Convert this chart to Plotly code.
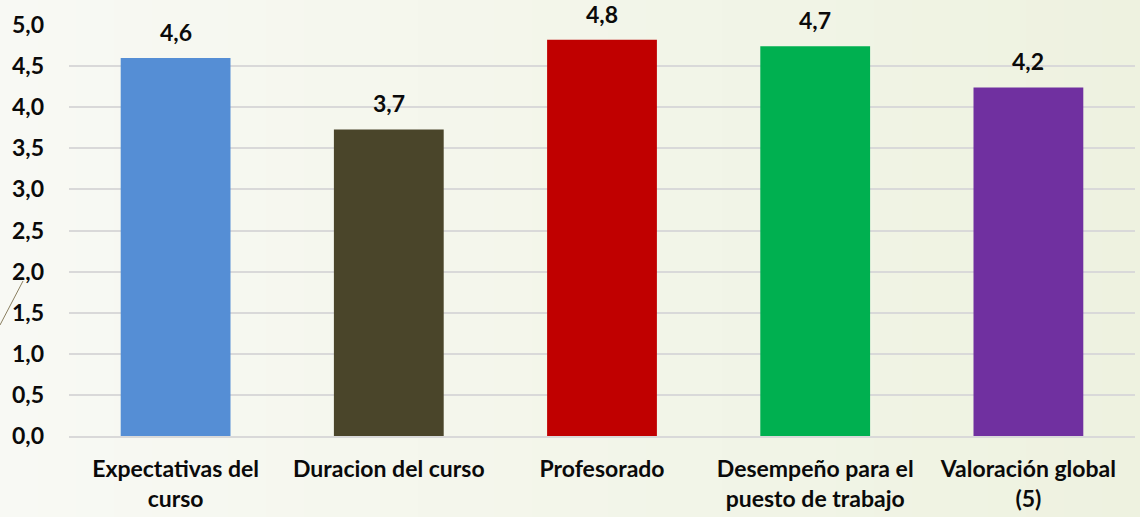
import plotly.graph_objects as go

categories = ["Expectativas del<br>curso", "Duracion del curso", "Profesorado",
              "Desempeño para el<br>puesto de trabajo", "Valoración global<br>(5)"]
values = [4.6, 3.73, 4.82, 4.74, 4.24]
labels = ["4,6", "3,7", "4,8", "4,7", "4,2"]
colors = ["#558ed5", "#4a452a", "#c00000", "#00b050", "#7030a0"]
y_ticks = [0, 0.5, 1, 1.5, 2, 2.5, 3, 3.5, 4, 4.5, 5]

FONT = "Lato"
SIZE = 23
TXT = "#0a0a0a"

W, H = 1140, 517
ML, MR, MT, MB = 69, 5, 25, 81
PW, PH = W - ML - MR, H - MT - MB

fig = go.Figure(go.Bar(
    x=categories, y=values, marker=dict(color=colors, line=dict(width=0)),
    hoverinfo="skip",
))

for c, v, t in zip(categories, values, labels):
    fig.add_annotation(x=c, y=v, text=t, showarrow=False, yanchor="bottom",
                       yshift=10, font=dict(family=FONT, size=SIZE, color=TXT, weight="bold"))

# subtle horizontal background gradient (style only)
shapes = []
n = 30
c0, c1 = (248, 249, 244), (238, 242, 224)
x_left, x_right = -ML / PW, 1 + MR / PW
for i in range(n):
    f = i / (n - 1)
    col = tuple(round(a + (b - a) * f) for a, b in zip(c0, c1))
    shapes.append(dict(type="rect", xref="paper", yref="paper", layer="below",
                       x0=x_left + (x_right - x_left) * i / n,
                       x1=x_left + (x_right - x_left) * (i + 1) / n + 0.001,
                       y0=-MB / PH, y1=1 + MT / PH,
                       fillcolor="rgb(%d,%d,%d)" % col, line=dict(width=0)))
shapes.append(dict(type="line", xref="paper", yref="paper",
                   x0=-69 / PW, y0=(436 - 325) / PH, x1=-46 / PW, y1=(436 - 281) / PH,
                   line=dict(color="#8a7f60", width=1)))

fig.update_layout(
    width=W, height=H,
    margin=dict(l=ML, r=MR, t=MT, b=MB),
    paper_bgcolor="#f4f6ec",
    plot_bgcolor="#bfbfbf",
    bargap=0.485,
    separators=",.",
    showlegend=False,
    font=dict(family=FONT, size=SIZE, color=TXT, weight="bold"),
    shapes=shapes,
)
fig.update_xaxes(
    tickfont=dict(family=FONT, size=SIZE, color=TXT, weight="bold"),
    showline=True, linecolor="#d9d9d9", linewidth=2, ticks="",
    ticklabelstandoff=11,
)
fig.update_yaxes(
    range=[0, 5], tickvals=y_ticks, tickformat=".1f",
    tickfont=dict(family=FONT, size=SIZE, color=TXT, weight="bold"),
    showgrid=True, gridcolor="#d9d9d9", gridwidth=2, zeroline=False,
    ticklabelstandoff=24,
)

fig.write_html("out.html", config={"displayModeBar": False})
with open("out.html", encoding="utf-8") as f:
    html = f.read()
html = html.replace("<head>", "<head><style>html,body{margin:0;padding:0;overflow:hidden;}</style>", 1)
with open("out.html", "w", encoding="utf-8") as f:
    f.write(html)
